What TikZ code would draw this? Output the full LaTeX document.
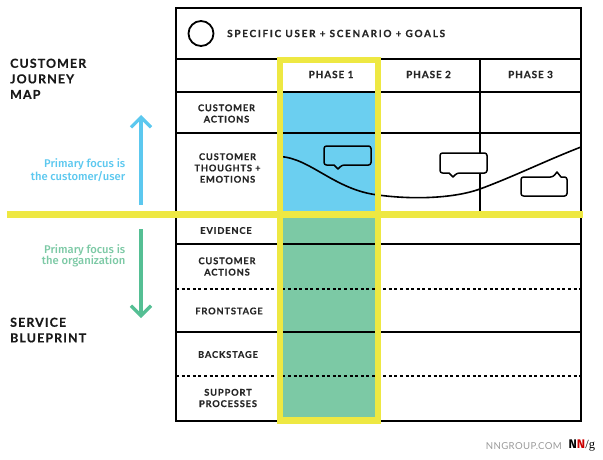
\documentclass[tikz,border=0pt]{standalone}
\usepackage{xcolor}
\usepackage{fontspec}
\usepackage{tikz}
\usetikzlibrary{positioning, calc, arrows.meta}
\setmainfont{Fira Sans}
\newfontfamily\capsfont[LetterSpace=9,FakeBold=0.35]{Lato Bold}
\newfontfamily\widefont[LetterSpace=17,FakeBold=0.35]{Lato Bold}
\newfontfamily\sitefont[LetterSpace=4]{Lato}
\newfontfamily\notefont{Fira Sans Medium}
\newfontfamily\markfont{Liberation Serif}
\definecolor{focusyellow}{HTML}{EEE842}
\definecolor{fillblue}{HTML}{6BCFF0}
\definecolor{fillgreen}{HTML}{7CC9A5}
\definecolor{arrowblue}{HTML}{5CC8EF}
\definecolor{arrowgreen}{HTML}{55BF94}
\tikzset{
  gridline/.style={black, line width=1.8pt},
  dotline/.style={black, line width=1.8pt, dash pattern=on 3pt off 2.6pt},
  focusbar/.style={focusyellow, line width=6.4pt},
  bubble/.style={black, line width=1.5pt, rounded corners=2.5pt, line join=round},
  rowlabel/.style={align=center, inner sep=0pt, font=\capsfont\fontsize{9.3}{11.3}\selectfont, text=black!85},
  phaselabel/.style={rowlabel, font=\capsfont\fontsize{10}{11}\selectfont},
  sidetitle/.style={align=left, anchor=north west, inner sep=0pt, font=\capsfont\fontsize{12.4}{15.6}\selectfont, text=black!90},
  focusnote/.style={align=right, anchor=east, inner sep=0pt, font=\notefont\fontsize{11.2}{11.4}\selectfont},
  focusarrow/.style={line width=3.2pt, -{Straight Barb[length=10pt, width=20pt, line width=3.2pt]}}
}
\begin{document}
\begin{tikzpicture}[x=1pt, y=-1pt]
  \useasboundingbox (0,0) rectangle (603,460);
  % column fills
  \fill[fillblue] (280,92) rectangle (378,212);
  \fill[fillgreen] (280,216) rectangle (378,420);
  % table
  \draw[gridline] (176,8) rectangle (581,421);
  \draw[gridline] (176,59) -- (581,59);
  \draw[gridline] (176,92) -- (581,92);
  \draw[gridline] (176,133) -- (581,133);
  \draw[gridline] (176,244) -- (581,244);
  \draw[gridline] (176,332) -- (581,332);
  \draw[dotline] (176,289) -- (581,289);
  \draw[dotline] (176,376) -- (581,376);
  \draw[gridline] (480,59) -- (480,212);
  % emotion curve
  \draw[black, line width=1.6pt] (280,156.5) .. controls (310,158) and (335,190) .. (378,195)
      .. controls (415,200) and (455,198) .. (480,189) .. controls (515,176) and (545,161) .. (581,147);
  % speech bubbles
  \draw[bubble] (324,146) -- (371,146) -- (371,165) -- (342,165) [sharp corners] -- (338,169) -- (334,165) [rounded corners=2.5pt] -- (324,165) -- cycle;
  \draw[bubble, fill=white] (440,153) -- (487,153) -- (487,173) -- (457,173) [sharp corners] -- (453,177) -- (449,173) [rounded corners=2.5pt] -- (440,173) -- cycle;
  \draw[bubble, fill=white] (521,177) -- (553,177) [sharp corners] -- (557,172) -- (561,177) [rounded corners=2.5pt] -- (567,177) -- (567,196) -- (521,196) -- cycle;
  % yellow focus
  \draw[focusbar] (280,60) rectangle (378,420.5);
  \draw[focusbar] (7,214.5) -- (583,214.5);
  % header
  \node[draw=black, line width=1.8pt, circle, minimum size=25pt, inner sep=0pt] (personaring) at (201,33.5) {};
  \node[phaselabel, anchor=west, font=\widefont\fontsize{10}{11}\selectfont] (personatext) at (227,33.5) {SPECIFIC USER + SCENARIO + GOALS};
  \node[phaselabel] (phaseone) at (331,74.5) {PHASE 1};
  \node[phaselabel] (phasetwo) at (428.5,74.5) {PHASE 2};
  \node[phaselabel] (phasethree) at (530.5,74.5) {PHASE 3};
  % row labels
  \node[rowlabel] (actionsmap) at (226.5,113.5) {CUSTOMER\\ACTIONS};
  \node[rowlabel] (thoughts) at (227.5,168) {CUSTOMER\\THOUGHTS +\\EMOTIONS};
  \node[rowlabel] (evidence) at (226,230.5) {EVIDENCE};
  \node[rowlabel] (actionsprint) at (227,266.5) {CUSTOMER\\ACTIONS};
  \node[rowlabel] (frontstage) at (229,311) {FRONTSTAGE};
  \node[rowlabel] (backstage) at (228,354.5) {BACKSTAGE};
  \node[rowlabel] (support) at (228,398) {SUPPORT\\PROCESSES};
  % left side
  \node[sidetitle] (journeytitle) at (10,58.5) {CUSTOMER\\JOURNEY\\MAP};
  \node[sidetitle] (blueprinttitle) at (10,317.5) {SERVICE\\BLUEPRINT};
  \node[focusnote, text=arrowblue] (focususer) at (125.5,170) {Primary focus is\\the customer/user};
  \node[focusnote, text=fillgreen] (focusorg) at (125.5,256) {Primary focus is\\the organization};
  \coordinate (blueend) at (141,205);
  \coordinate (bluetip) at (141,115);
  \coordinate (greenend) at (141,229);
  \coordinate (greentip) at (141,318);
  \draw[focusarrow, arrowblue] (blueend) -- (bluetip);
  \draw[focusarrow, arrowgreen] (greenend) -- (greentip);
  % footer
  \node[anchor=east, inner sep=0pt, text=black!40, font=\sitefont\fontsize{9.6}{10}\selectfont] (sitename) at (562,446) {NNGROUP.COM};
  \node[anchor=west, inner sep=0pt, font=\fontsize{12.5}{12}\selectfont\bfseries] (logo) at (568.5,446) {N\textcolor{red!80!black}{N}{\markfont\mdseries /g}};
\end{tikzpicture}
\end{document}
